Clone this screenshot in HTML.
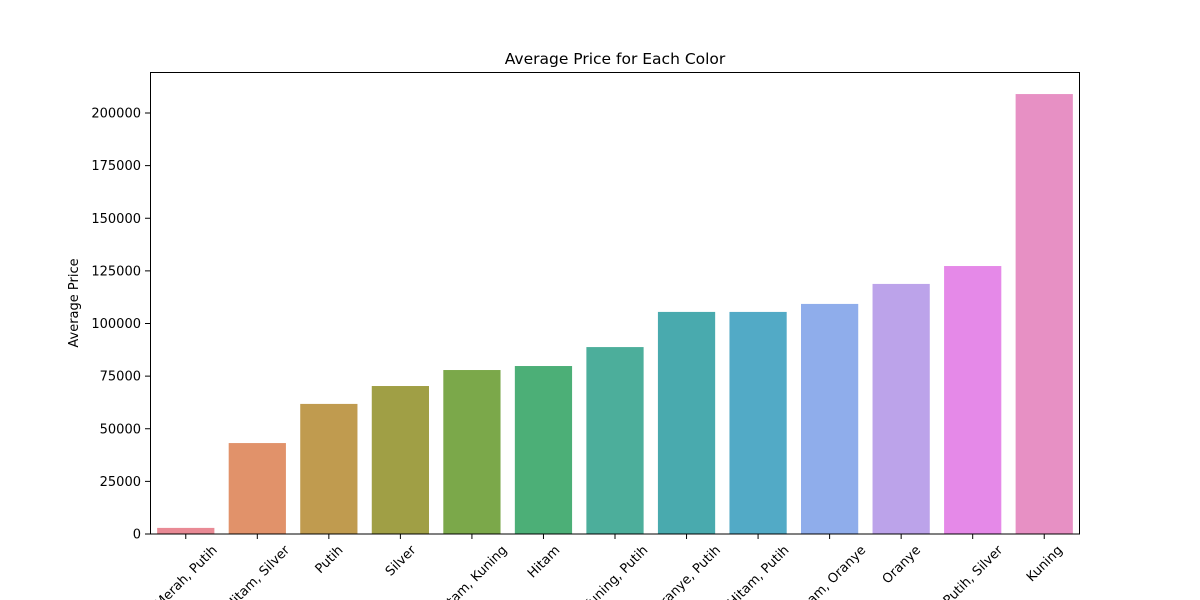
<!DOCTYPE html>
<html><head><meta charset="utf-8"><style>
body{margin:0;background:#fff;}
svg{display:block;font-family:"DejaVu Sans","Liberation Sans",sans-serif;}
</style></head><body>
<svg id="chart" width="1200" height="600">
<text x="615" y="64" text-anchor="middle" font-size="15.5">Average Price for Each Color</text>
<text transform="translate(78,303) rotate(-90)" text-anchor="middle" font-size="13">Average Price</text>
<g id="bars"></g><g id="yt"></g><g id="xt"></g>
<rect x="150.5" y="72.5" width="929" height="461.5" fill="none" stroke="#000" stroke-width="1"/>
</svg>
<script>
const categories=["Merah, Putih","Hitam, Silver","Putih","Silver","Hitam, Kuning","Hitam","Kuning, Putih","Oranye, Putih","Hitam, Putih","Hitam, Oranye","Oranye","Putih, Silver","Kuning"];
const values=[2900,43200,61800,70300,77900,79800,88800,105500,105500,109300,118800,127300,209000];
const colors=["#e98a95","#e1926a","#c09b4f","#a09f45","#7ba84a","#4caf77","#4cae9b","#49aaae","#52aac6","#8fadeb","#bca3ea","#e589e8","#e790c4"];
const yTicks=[0,25000,50000,75000,100000,125000,150000,175000,200000];
const NS="http://www.w3.org/2000/svg";
const x0=150,x1=1080,yBase=534,yTop=113;
const slot=(x1-x0)/categories.length;
const y=v=>yBase-v/200000*(yBase-yTop);
const xc=i=>x0+slot*(i+0.5);
function mk(t,a,p){const e=document.createElementNS(NS,t);for(const k in a)e.setAttribute(k,a[k]);p.appendChild(e);return e;}
const B=document.getElementById('bars'),YT=document.getElementById('yt'),XT=document.getElementById('xt');
values.forEach((v,i)=>{
 const r=mk('rect',{x:xc(i)-slot*0.4,y:y(v),width:slot*0.8,height:yBase-y(v),fill:colors[i]},B);
 
 
 const tk=mk('line',{x1:xc(i),x2:xc(i),y1:yBase,y2:yBase+5,stroke:'#000'},XT);
 
 
 const t=mk('text',{'text-anchor':'middle','font-size':'13'},XT);
 t.textContent=categories[i];
 
 
 const L=t.getComputedTextLength(), h=13;
 const bh=(L+h)/Math.SQRT2;
 t.setAttribute('transform',`translate(${xc(i)},${yBase+9+bh/2}) rotate(-45) translate(0,4.5)`);
});
yTicks.forEach(v=>{
 const l=mk('line',{x1:x0-5,x2:x0,y1:y(v),y2:y(v),stroke:'#000'},YT);
 
 
 const t=mk('text',{x:x0-9,y:y(v)+4.5,'text-anchor':'end','font-size':'13'},YT);
 t.textContent=v;
 
 
});
</script>
</body></html>
